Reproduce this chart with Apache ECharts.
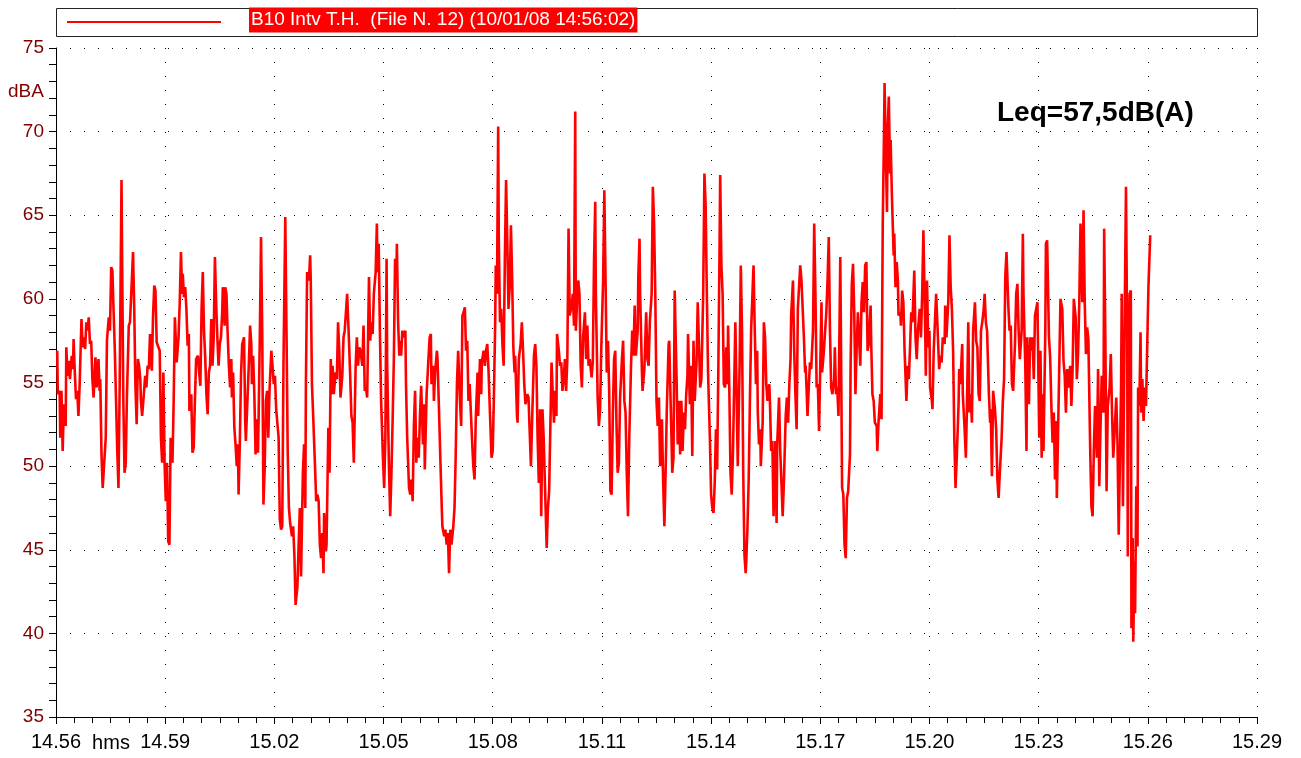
<!DOCTYPE html>
<html>
<head>
<meta charset="utf-8">
<script src="https://cdn.jsdelivr.net/npm/echarts@6/dist/echarts.min.js"></script>
<style>
html, body { margin: 0; padding: 0; background: #fff; }
#chart { width: 1301px; height: 758px; }
</style>
</head>
<body>
<div id="chart"></div>
<script>
// seconds after 14:56:00
const times = [
  2, 3, 6, 7, 9, 11, 13, 16, 17, 19,
  21, 23, 26, 28, 29, 31, 33, 35, 37, 39,
  42, 44, 46, 48, 50, 52, 54, 56, 58, 60,
  62, 65, 67, 70, 72, 73, 75, 77, 79, 82,
  84, 87, 89, 91, 93, 95, 97, 99, 101, 103,
  105, 108, 109, 111, 113, 115, 117, 120, 122, 125,
  127, 129, 131, 133, 135, 137, 139, 140, 142, 144,
  147, 149, 151, 153, 155, 158, 160, 162, 164, 166,
  169, 171, 173, 175, 177, 179, 181, 183, 185, 187,
  189, 192, 194,
  196, 199, 202, 204, 206, 208, 209, 211, 213, 215,
  217, 219, 220, 223, 225, 227, 229, 231, 234, 236,
  238, 240, 242, 244, 246, 248, 250, 252, 254, 256,
  258, 260, 262, 264, 266, 268, 270, 272, 274, 275,
  278, 279, 281, 283, 285, 287, 289, 290, 292, 294,
  296, 298, 300, 301, 303, 305, 307, 310, 312, 313,
  316, 318, 320, 322, 323, 325, 327, 329, 330, 333,
  334, 336, 338, 340, 342, 344, 346, 348, 350, 352,
  355, 357, 359, 361, 363, 366, 367, 369, 371, 373,
  375, 378, 380, 382, 384, 386, 389, 391, 393, 395,
  398, 400,
  402, 404, 407, 409, 411, 412, 414, 417, 419, 420,
  422, 424, 427, 429, 431, 433, 435, 437, 439, 441,
  442, 445, 446, 449, 451, 453, 455, 456, 458, 461,
  463, 465, 467, 469, 472, 474, 476, 478, 480, 483,
  485, 487, 489, 491, 494, 496, 498, 500, 502, 505,
  507, 509, 511, 513, 516, 518, 520, 522, 524, 527,
  529, 530, 532, 534, 536, 539, 541, 543, 545, 546,
  549, 551, 553, 555, 557, 559, 561, 562, 564, 566,
  567, 569, 571, 573, 576, 577, 579, 582, 584, 586,
  588, 590, 592, 594, 596, 598, 600, 602, 605, 607,
  608, 611, 614, 616, 618, 619, 622, 623, 625, 628,
  629, 631, 634, 636, 637, 640, 642, 644, 646, 648,
  650, 652, 655, 657, 659, 661, 663, 666, 668, 670,
  672, 674, 676, 678, 680, 682, 684, 686, 688, 690,
  692, 695, 696, 699, 701, 702, 705, 707, 709, 711,
  713, 716, 718, 720, 722, 724, 725, 727, 729, 730,
  732, 734, 736, 738, 740, 742, 744, 746, 748, 750,
  752, 754, 756, 757, 760, 761, 763, 766, 768, 770,
  772, 774, 777, 779, 781, 783, 785, 788, 790, 792,
  794, 796, 798, 800, 802, 804, 806, 809, 811, 813,
  814, 817, 819, 821, 823, 825, 826, 829, 831, 833,
  835, 837, 839, 841, 843, 845, 847, 850, 852, 854,
  856, 857, 859, 861, 863, 865, 867, 869, 872, 874,
  876, 878, 880, 883, 885, 887, 889, 890, 893, 895,
  897, 899, 901, 902, 904, 906, 908, 910, 912, 914,
  916, 918, 920, 922, 924, 926, 928, 930, 933, 935,
  937, 939, 941, 943, 945, 948, 950, 952, 954, 956,
  959, 960, 962, 963, 966, 967, 970, 972, 973, 975,
  977, 979, 982, 984, 986, 988, 990, 992, 994, 996,
  999, 1001, 1003, 1005, 1007, 1010, 1011, 1013, 1016, 1018,
  1020, 1023, 1025, 1027, 1029, 1031, 1033, 1035, 1037, 1039,
  1041, 1042, 1045, 1047, 1049, 1051, 1053, 1056, 1058, 1060,
  1062, 1064, 1067, 1069, 1071, 1073, 1075, 1078, 1080, 1082,
  1084, 1086, 1088, 1090, 1092, 1094, 1095, 1097, 1099, 1101,
  1103, 1105, 1107, 1108, 1110, 1112, 1114, 1116, 1118, 1120,
  1122, 1124, 1127, 1129, 1131, 1133, 1135, 1137, 1138, 1140,
  1142, 1144, 1146, 1149, 1150, 1152, 1154, 1156, 1157, 1159,
  1161, 1162, 1165, 1167, 1169, 1171, 1173, 1176, 1177, 1179,
  1181, 1183, 1186, 1188, 1189, 1192, 1194, 1196, 1198, 1200,
  1203, 1205, 1207, 1209, 1211, 1212, 1215, 1217, 1219, 1221,
  1223,
  1227, 1229, 1231, 1233, 1235, 1236, 1239, 1241, 1243, 1245,
  1248, 1250, 1252, 1254, 1256, 1258, 1260, 1262, 1263, 1266,
  1268, 1270, 1272, 1274, 1276, 1278, 1280, 1283, 1284, 1286,
  1288, 1290, 1293, 1294, 1296, 1298, 1300, 1302, 1304, 1306,
  1309, 1310, 1312, 1314, 1316, 1318, 1320, 1322, 1324, 1326,
  1328, 1330, 1332, 1334, 1336, 1338, 1340, 1343, 1344, 1346,
  1348, 1350, 1353, 1354, 1356, 1359, 1361, 1363, 1365, 1366,
  1368, 1370, 1371, 1373, 1375, 1376, 1378, 1381, 1382, 1384,
  1386, 1388, 1389, 1392, 1393, 1395, 1397, 1399, 1402, 1404,
  1406, 1408, 1410, 1412, 1415, 1417, 1419, 1421, 1424, 1426,
  1428, 1430,
  1433, 1434, 1436, 1438, 1440, 1441, 1444, 1445, 1447, 1450,
  1451, 1453, 1456, 1458, 1460, 1462, 1465, 1466, 1468, 1471,
  1473, 1475, 1477, 1479, 1481, 1483, 1485, 1488, 1489, 1491,
  1494, 1495, 1498, 1500, 1502, 1504, 1506, 1508, 1510, 1512,
  1515, 1517, 1519, 1521, 1523, 1525, 1527, 1529, 1531, 1533,
  1535, 1538, 1540, 1541, 1543, 1545, 1548, 1550, 1552, 1554,
  1556, 1559, 1561, 1563, 1565, 1567, 1570, 1572, 1574, 1576,
  1578, 1581, 1583, 1585, 1587, 1589, 1592, 1594, 1595, 1598,
  1600, 1601, 1604, 1606, 1608, 1610, 1612, 1614, 1616, 1618,
  1621, 1623, 1625, 1627, 1628, 1631, 1632, 1634, 1637,
  1639, 1641, 1643, 1645, 1647, 1649, 1650, 1652, 1654, 1656,
  1659, 1661, 1663, 1665, 1667, 1669, 1672, 1674, 1676, 1678,
  1681, 1683, 1685, 1687, 1689, 1692, 1694, 1696, 1698, 1700,
  1702, 1705, 1707, 1709, 1711, 1713, 1716, 1718, 1720, 1722,
  1724, 1727, 1728, 1730, 1732, 1734, 1737, 1739, 1741, 1743,
  1745, 1748, 1750, 1752, 1754, 1756, 1757, 1759, 1761, 1762,
  1764, 1766, 1767, 1768, 1770, 1772, 1773, 1775, 1776, 1778,
  1779, 1781, 1783, 1784, 1786, 1788, 1789, 1791, 1793, 1795,
  1797, 1799, 1801, 1804
];

// dBA
const levels = [
  56.9, 54.3, 54.5, 51.7, 54.5, 50.9, 53.7, 52.4, 57.1, 55.4,
  56.3, 55.2, 56.6, 55.8, 57.6, 55.6, 54.0, 54.5, 53.0, 54.9,
  58.8, 57.1, 57.7, 57.0, 58.6, 58.1, 58.9, 57.3, 57.5, 55.2,
  54.1, 56.5, 54.7, 56.4, 54.5, 55.2, 50.7, 48.7, 48.7, 51.7,
  57.5, 58.9, 58.1, 61.9, 61.7, 59.2, 56.9, 53.9, 50.9, 48.7,
  54.9, 67.1, 62.4, 53.9, 49.6, 50.2, 54.3, 58.4, 58.6, 61.1,
  62.8, 59.4, 54.7, 52.5, 56.4, 56.0, 55.2, 53.9, 53.0, 53.9,
  55.4, 54.7, 56.0, 55.8, 57.9, 55.7, 59.0, 60.8, 60.5, 57.4,
  57.3, 56.9, 51.7, 50.2, 55.6, 50.2, 47.9, 50.2, 45.5, 45.3,
  51.7, 50.2, 53.9,
  58.9, 56.2, 57.7, 59.8, 62.8, 60.3, 61.5, 60.1, 60.7, 59.4,
  57.2, 57.9, 53.3, 54.3, 50.8, 51.1, 53.9, 56.4, 56.6, 55.6,
  54.8, 59.4, 61.6, 58.1, 56.5, 54.3, 53.1, 55.6, 56.0, 58.8,
  56.0, 57.7, 62.5, 59.8, 57.7, 56.0, 57.3, 57.7, 59.2, 60.7,
  58.4, 60.7, 60.3, 57.9, 56.0, 54.7, 56.4, 54.1, 55.6, 52.3,
  51.3, 50.0, 51.3, 48.3, 51.3, 55.4, 57.3, 57.7, 52.6, 51.5,
  54.3, 56.2, 58.4, 57.3, 54.9, 56.6, 54.3, 50.7, 52.8, 50.8,
  52.8, 57.7, 63.7, 58.1, 47.7, 49.8, 53.9, 54.5, 51.7, 54.5,
  56.9, 56.0, 54.9, 55.4, 53.4, 53.4, 51.7, 46.8, 46.2, 46.4,
  56.0, 64.9, 58.1, 50.9, 47.5, 46.6, 45.8, 46.4, 44.7, 41.7,
  42.8, 45.3,
  47.5, 43.4, 49.6, 51.3, 47.5, 54.9, 61.6, 61.1, 62.6, 61.1,
  54.9, 53.0, 50.0, 47.9, 48.3, 47.9, 45.3, 44.5, 46.0, 43.6,
  47.2, 44.9, 45.3, 52.3, 49.6, 56.4, 54.3, 56.0, 54.3, 55.6,
  55.2, 58.6, 56.9, 54.1, 55.4, 57.7, 58.1, 58.1, 60.3, 57.5,
  55.4, 53.0, 52.6, 50.2, 56.0, 57.7, 56.0, 57.1, 56.9, 56.0,
  58.4, 54.5, 54.7, 54.1, 61.3, 57.5, 58.6, 57.9, 60.3, 61.6,
  64.5, 61.6, 63.3, 58.1, 53.9, 50.5, 48.7, 51.7, 62.4, 56.0,
  49.8, 47.0, 49.6, 52.8, 56.4, 62.4, 61.1, 63.3, 58.6, 56.6,
  57.5, 56.6, 58.1, 57.7, 58.1, 54.9, 51.7, 48.7, 48.3, 49.2,
  47.9, 52.4, 54.5, 50.2, 51.7, 50.5, 53.0, 54.8, 51.3, 53.7,
  49.8, 54.3, 56.4, 57.7, 57.9, 54.9, 56.0, 53.9, 55.6, 56.9,
  56.4, 53.9, 50.0, 47.5, 46.4, 45.8, 46.2, 45.3, 46.0, 43.6,
  46.2, 45.3, 46.4, 47.5, 50.7, 54.9, 56.9, 53.9, 52.4, 59.0,
  59.2, 59.5, 56.9, 57.5, 53.9, 54.9, 53.2, 51.5, 50.0, 49.2,
  52.8, 55.6, 53.0, 56.4, 54.3, 56.2, 56.9, 56.0, 56.9, 57.3,
  55.8, 52.6, 50.5, 50.9, 54.3, 58.4, 62.0, 60.3, 70.3, 63.5,
  58.6, 59.4, 57.3, 56.0, 62.4, 67.1, 63.5, 59.4, 60.7, 64.4,
  61.3, 57.1, 55.6, 56.6, 53.0, 52.6, 56.4, 57.3, 58.6, 56.9,
  54.9, 53.7, 54.3, 54.1, 52.0, 50.0, 52.8, 56.6, 57.3, 56.0,
  51.7, 49.0, 53.4, 47.0, 53.4, 51.7, 49.0, 45.1, 47.5, 48.5,
  48.5, 56.2, 54.3, 52.6, 54.5, 53.0, 57.9, 56.9, 56.0, 56.2,
  54.5, 55.2, 56.4, 54.5, 56.4, 64.2, 59.0, 59.6, 60.3, 58.4,
  71.2, 58.1, 59.8, 61.1, 60.3, 56.0, 54.7, 57.7, 59.2, 56.4,
  58.4, 56.0, 56.4, 55.3, 56.2, 62.2, 65.8, 60.3, 54.1, 52.4,
  53.4, 57.1, 59.8, 61.1, 66.5, 61.1, 55.6, 57.5, 54.5, 48.5,
  48.3, 53.0, 56.4, 56.9, 52.6, 49.6, 50.2, 54.1, 56.4, 57.5,
  53.9, 53.2, 49.6, 47.0, 51.5, 56.0, 58.1, 56.6, 59.6, 56.6,
  58.1, 61.3, 63.6, 60.3, 55.6, 54.5, 55.8, 58.1, 59.2, 56.4,
  56.0, 58.6, 60.3, 66.7, 64.5, 60.3, 53.9, 52.4, 54.1, 50.0,
  52.8, 49.0, 46.4, 49.6, 53.4, 57.3, 57.5, 54.3, 49.6, 50.5,
  60.5, 55.4, 51.3, 53.9, 50.7, 53.9, 50.9, 53.2, 52.2, 54.3,
  55.4, 57.9, 53.7, 56.0, 50.6, 57.5, 53.9, 56.2, 59.8, 57.3,
  54.7, 55.2, 60.3, 67.5, 65.6, 60.3, 55.6, 51.7, 48.3, 47.5,
  47.2, 49.0, 52.2, 49.8, 56.0, 63.3, 67.4, 62.0, 60.3, 54.9,
  54.7, 57.1, 54.9, 58.4, 54.7, 49.6, 48.3, 50.7, 54.7, 58.6,
  54.5, 50.0, 56.0, 62.0, 58.1, 49.6, 44.7, 43.6, 44.3, 46.4,
  49.2, 53.9, 58.1, 61.1, 62.0, 58.1, 54.9, 56.9, 53.2, 51.3,
  52.2, 50.0, 52.6, 58.6, 57.7, 54.9, 53.9, 54.9, 53.9, 50.9,
  51.5, 47.0, 51.5, 46.6, 51.3, 54.1, 50.9, 49.0, 47.0, 49.0,
  53.0, 54.1, 52.6, 54.9, 56.4, 59.0, 61.1, 56.9, 54.3, 52.2,
  59.4,
  62.0, 61.1, 59.4, 57.7, 55.6, 56.0, 53.0, 54.7, 56.2, 55.8,
  58.1, 64.5, 60.3, 54.7, 54.9, 52.1, 56.0, 59.8, 55.6, 56.9,
  58.1, 59.2, 61.1, 63.7, 58.1, 54.7, 54.3, 55.2, 57.1, 54.3,
  54.7, 53.0, 62.5, 58.1, 48.7, 48.3, 45.3, 44.5, 48.1, 48.5,
  50.7, 56.0, 60.9, 62.1, 59.2, 54.3, 57.1, 59.2, 59.2, 56.0,
  59.8, 61.0, 59.2, 62.0, 62.2, 56.9, 57.3, 59.6, 57.3, 54.3,
  53.9, 52.6, 52.4, 50.9, 52.6, 54.3, 52.8, 64.5, 69.7, 72.9,
  68.8, 65.2, 69.9, 72.1, 67.5, 69.5, 66.3, 62.6, 63.9, 60.7,
  62.2, 61.1, 59.0, 59.2, 58.4, 60.5, 59.8, 56.9, 53.9, 56.0,
  55.2, 57.1, 59.2, 58.6, 61.7, 57.7, 56.4, 58.1, 59.4, 57.7,
  60.3, 64.1,
  58.1, 55.4, 61.1, 57.1, 58.1, 54.7, 53.9, 53.4, 56.9, 56.9,
  60.3, 58.6, 55.8, 56.6, 56.2, 57.7, 57.3, 59.6, 57.7, 59.8,
  63.8, 60.7, 59.4, 56.9, 51.7, 48.7, 50.5, 53.7, 55.8, 54.9,
  57.3, 54.3, 52.2, 50.5, 53.9, 58.6, 53.2, 54.3, 52.6, 58.1,
  59.8, 57.5, 57.1, 54.3, 53.9, 58.1, 58.6, 59.2, 60.3, 58.6,
  58.1, 54.3, 52.6, 53.4, 49.4, 54.5, 53.4, 52.2, 49.2, 48.1,
  49.6, 51.7, 53.9, 55.2, 61.3, 62.8, 59.6, 58.1, 58.4, 54.9,
  54.5, 57.3, 60.3, 60.9, 58.1, 56.4, 58.1, 63.9, 60.3, 56.0,
  50.9, 57.7, 53.7, 57.7, 56.9, 57.7, 55.2, 59.0, 59.4, 59.8,
  51.7, 56.9, 50.5, 54.3, 50.9, 58.1, 63.3, 63.5, 57.7,
  56.5, 53.6, 51.4, 53.2, 49.2, 52.7, 48.1, 51.9, 51.9, 60.0,
  59.4, 56.3, 55.4, 53.2, 55.8, 54.7, 56.0, 53.6, 55.8, 60.0,
  58.9, 55.2, 56.7, 59.8, 64.5, 59.8, 65.3, 59.8, 56.7, 58.3,
  57.6, 51.0, 47.6, 47.0, 51.0, 53.6, 50.5, 55.8, 48.8, 52.3,
  55.4, 53.2, 64.2, 57.6, 48.5, 53.6, 54.7, 56.7, 53.2, 50.5,
  51.9, 54.1, 51.4, 45.9, 50.3, 55.0, 60.3, 47.6, 55.4, 59.4,
  66.7, 57.6, 44.6, 53.2, 60.3, 60.5, 40.3, 45.7, 39.5, 44.3,
  41.2, 48.8, 45.2, 54.7, 53.6, 58.0, 53.2, 55.2, 52.7, 54.7,
  53.6, 57.2, 60.7, 63.8
];

const xTickLabels = ['14.56', '14.59', '15.02', '15.05', '15.08', '15.11', '15.14', '15.17', '15.20', '15.23', '15.26', '15.29'];
const xStep = 180;

const plain = "'Liberation Sans', Arial, sans-serif";

const n = Math.min(times.length, levels.length);
const seriesData = [];
for (let i = 0; i < n; i++) seriesData.push([times[i], levels[i]]);

const chart = echarts.init(document.getElementById('chart'));
const dotted = { color: '#000', width: 1, type: [1, 13] };

const option = {
  animation: false,
  backgroundColor: '#fff',
  grid: { left: 56, right: 44, top: 48, bottom: 41, containLabel: false },
  xAxis: {
    type: 'value',
    min: 0,
    max: 1980,
    interval: xStep,
    axisLine: { show: true, lineStyle: { color: '#000', width: 1 } },
    axisTick: { show: true, length: 7, lineStyle: { color: '#000' } },
    minorTick: { show: true, splitNumber: 6, length: 6, lineStyle: { color: '#000' } },
    axisLabel: {
      margin: 15,
      color: '#000',
      fontSize: 20,
      fontFamily: plain,
      formatter: v => xTickLabels[Math.round(v / xStep)]
    },
    splitLine: { show: true, lineStyle: dotted }
  },
  yAxis: {
    type: 'value',
    min: 35,
    max: 75,
    interval: 5,
    axisLine: { show: true, lineStyle: { color: '#000', width: 1 } },
    axisTick: { show: true, length: 7, lineStyle: { color: '#000' } },
    minorTick: { show: true, splitNumber: 5, length: 7, lineStyle: { color: '#000' } },
    axisLabel: { margin: 12, color: '#800000', fontSize: 19, fontFamily: plain },
    splitLine: { show: true, lineStyle: dotted }
  },
  series: [{
    name: 'B10 Intv T.H.  (File N. 12) (10/01/08 14:56:02)',
    type: 'line',
    data: seriesData,
    showSymbol: false,
    symbol: 'none',
    lineStyle: { color: '#ff0000', width: 2.6 },
    z: 5
  }],
  graphic: [
    {
      type: 'rect',
      shape: { x: 56.5, y: 8.5, width: 1201, height: 28 },
      style: { fill: '#fff', stroke: '#222', lineWidth: 1 }
    },
    {
      type: 'line',
      shape: { x1: 67, y1: 22, x2: 221, y2: 22 },
      style: { stroke: '#ff0000', lineWidth: 2 }
    },
    {
      type: 'text',
      x: 249,
      y: 20,
      style: {
        text: 'B10 Intv T.H.  (File N. 12) (10/01/08 14:56:02)',
        fill: '#fff',
        backgroundColor: '#ff0000',
        padding: [3, 2, 3, 2],
        font: '19px ' + plain,
        verticalAlign: 'middle'
      }
    },
    {
      type: 'text',
      x: 8,
      y: 92,
      style: { text: 'dBA', fill: '#800000', font: '19px ' + plain, verticalAlign: 'middle' }
    },
    {
      type: 'text',
      x: 111,
      y: 743,
      style: { text: 'hms', fill: '#000', font: '20px ' + plain, align: 'center', verticalAlign: 'middle' }
    },
    {
      type: 'text',
      x: 997,
      y: 113,
      style: { text: 'Leq=57,5dB(A)', fill: '#000', font: 'bold 28px ' + plain, verticalAlign: 'middle' }
    }
  ]
};

chart.setOption(option);
</script>
</body>
</html>
